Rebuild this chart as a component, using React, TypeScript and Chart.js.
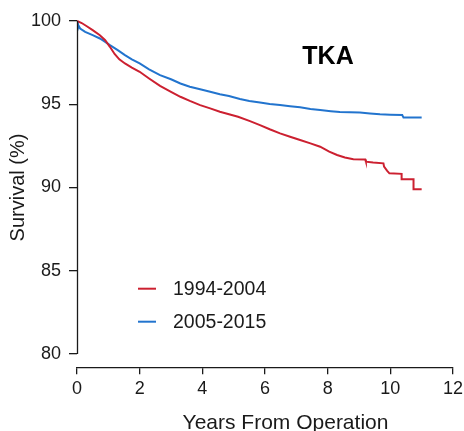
import React, { useEffect, useRef } from 'react';
import { Chart, registerables } from 'chart.js';

Chart.register(...registerables);

const chartTitle = 'TKA';
const xTitle = 'Years From Operation';
const yTitle = 'Survival (%)';
const series1Label = '1994-2004';
const series2Label = '2005-2015';

const xTicks = [0, 2, 4, 6, 8, 10, 12];
const yTicks = [80, 85, 90, 95, 100];

// Kaplan-Meier estimates (repeated times mark visible steps)
const redTimes = [0, 0.15, 0.3, 0.5, 0.73, 0.9, 1.05, 1.2, 1.35, 1.53, 1.75, 2.0, 2.3, 2.65, 3.0, 3.3, 3.6, 3.93, 4.25, 4.56, 4.85, 5.14, 5.5, 5.84, 6.15, 6.48, 6.8, 7.12, 7.45, 7.76, 8.05, 8.3, 8.55, 8.82, 9.2, 9.22, 9.45, 9.78, 9.8, 9.9, 9.97, 10.36, 10.36, 10.74, 10.74, 11.0];
const redSurvival = [100, 99.88, 99.7, 99.45, 99.15, 98.85, 98.45, 98.02, 97.7, 97.45, 97.2, 96.95, 96.55, 96.1, 95.75, 95.45, 95.2, 94.95, 94.75, 94.55, 94.4, 94.25, 94.0, 93.75, 93.5, 93.25, 93.05, 92.85, 92.65, 92.45, 92.15, 91.95, 91.8, 91.7, 91.68, 91.55, 91.5, 91.45, 91.25, 91.0, 90.85, 90.82, 90.5, 90.5, 89.9, 89.9];

const blueTimes = [0, 0.03, 0.1, 0.26, 0.5, 0.73, 0.9, 1.05, 1.3, 1.53, 1.75, 2.0, 2.3, 2.65, 3.0, 3.3, 3.6, 3.93, 4.25, 4.56, 4.85, 5.2, 5.5, 5.84, 6.15, 6.48, 6.8, 7.12, 7.45, 7.76, 8.1, 8.39, 9.03, 9.35, 9.67, 10.0, 10.38, 10.42, 11.0];
const blueSurvival = [100, 99.8, 99.55, 99.35, 99.15, 98.95, 98.75, 98.55, 98.25, 97.95, 97.7, 97.45, 97.1, 96.75, 96.5, 96.25, 96.05, 95.9, 95.75, 95.6, 95.5, 95.32, 95.2, 95.1, 95.02, 94.95, 94.88, 94.82, 94.72, 94.65, 94.58, 94.53, 94.5, 94.45, 94.4, 94.37, 94.35, 94.2, 94.2];

const RED = 'rgb(204,32,48)';
const BLUE = 'rgb(34,116,206)';
const INK = '#1a1a1a';
const FONT = '"Liberation Sans", Arial, Helvetica, sans-serif';

const decorPlugin = {
  id: 'decor',
  afterDraw(chart: any) {
    const { ctx, chartArea, scales } = chart;
    const xs = scales.x;
    const ys = scales.y;
    ctx.save();
    // R-style y axis line spanning only the tick range
    ctx.strokeStyle = INK;
    ctx.lineWidth = 1.3;
    ctx.beginPath();
    const ax = Math.round(xs.getPixelForValue(0)) + 0.5;
    ctx.moveTo(ax, ys.getPixelForValue(yTicks[0]));
    ctx.lineTo(ax, ys.getPixelForValue(yTicks[yTicks.length - 1]));
    ctx.stroke();

    // Title inside plot
    ctx.fillStyle = '#000';
    ctx.font = `bold 25px ${FONT}`;
    ctx.textAlign = 'center';
    ctx.textBaseline = 'alphabetic';
    ctx.fillText(chartTitle, chartArea.left + 251, chartArea.top + 56);

    // Legend
    const items = [
      { label: series1Label, color: RED, y: chartArea.top + 281 },
      { label: series2Label, color: BLUE, y: chartArea.top + 314 },
    ];
    ctx.font = `19.5px ${FONT}`;
    ctx.textAlign = 'left';
    ctx.textBaseline = 'middle';
    items.forEach((it) => {
      ctx.strokeStyle = it.color;
      ctx.lineWidth = 2;
      ctx.beginPath();
      ctx.moveTo(chartArea.left + 61, it.y);
      ctx.lineTo(chartArea.left + 79, it.y);
      ctx.stroke();
      ctx.fillStyle = INK;
      ctx.fillText(it.label, chartArea.left + 96, it.y + 1);
    });

    // x axis title
    ctx.font = `21px ${FONT}`;
    ctx.textAlign = 'center';
    ctx.textBaseline = 'alphabetic';
    ctx.fillStyle = INK;
    ctx.fillText(xTitle, chartArea.left + 208.5, chartArea.bottom + 62);
    ctx.restore();
  },
};

export default function App() {
  const canvasRef = useRef<HTMLCanvasElement | null>(null);

  useEffect(() => {
    if (!canvasRef.current) return;
    const chart = new Chart(canvasRef.current, {
      type: 'line',
      data: {
        datasets: [
          {
            label: series1Label,
            data: redTimes.map((t, i) => ({ x: t, y: redSurvival[i] })),
            borderColor: RED,
            backgroundColor: RED,
            borderWidth: 2,
            pointRadius: 0,
            tension: 0,
            fill: false,
          },
          {
            label: series2Label,
            data: blueTimes.map((t, i) => ({ x: t, y: blueSurvival[i] })),
            borderColor: BLUE,
            backgroundColor: BLUE,
            borderWidth: 2,
            pointRadius: 0,
            tension: 0,
            fill: false,
          },
        ],
      },
      options: {
        animation: false,
        responsive: false,
        maintainAspectRatio: false,
        layout: { padding: { top: 7.7, right: 11, left: 0, bottom: 0 } },
        plugins: {
          legend: { display: false },
          tooltip: { enabled: false },
          title: { display: false },
        },
        scales: {
          x: {
            type: 'linear',
            min: xTicks[0],
            max: xTicks[xTicks.length - 1],
            afterBuildTicks: (s: any) => {
              s.ticks = xTicks.map((v) => ({ value: v }));
            },
            afterFit: (s: any) => {
              s.height = 63.7;
              s.paddingLeft = 0;
              s.paddingRight = 0;
            },
            ticks: {
              autoSkip: false,
              maxRotation: 0,
              color: INK,
              padding: 4,
              font: { family: FONT, size: 18 },
            },
            grid: {
              display: true,
              drawOnChartArea: false,
              drawTicks: true,
              tickLength: 7,
              color: INK,
              lineWidth: 1.3,
            },
            border: { display: true, color: INK, width: 1.3 },
          },
          y: {
            type: 'linear',
            min: 79.2,
            max: 100.8,
            afterBuildTicks: (s: any) => {
              s.ticks = yTicks.map((v) => ({ value: v }));
            },
            afterFit: (s: any) => {
              s.width = 77;
              s.paddingTop = 0;
              s.paddingBottom = 0;
            },
            ticks: {
              color: INK,
              padding: 8,
              font: { family: FONT, size: 18 },
            },
            grid: {
              display: true,
              drawOnChartArea: false,
              drawTicks: true,
              tickLength: 8,
              color: INK,
              lineWidth: 1.3,
            },
            border: { display: false },
            title: {
              display: true,
              text: yTitle,
              color: INK,
              font: { family: FONT, size: 20 },
              padding: { top: 6, bottom: 0 },
            },
          },
        },
      },
      plugins: [decorPlugin],
    });
    return () => chart.destroy();
  }, []);

  return (
    <div style={{ position: 'fixed', left: 0, top: 0, width: 464, height: 431, background: '#fff' }}>
      <canvas ref={canvasRef} width={464} height={431} style={{ display: 'block', width: 464, height: 431 }} />
    </div>
  );
}
